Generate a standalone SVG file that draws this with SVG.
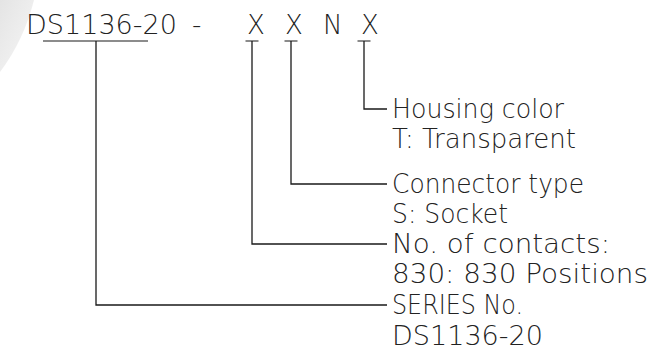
<svg xmlns="http://www.w3.org/2000/svg" width="652" height="358" viewBox="0 0 652 358">
<defs>
<linearGradient id="wm" x1="0" y1="0" x2="1" y2="1">
<stop offset="0" stop-color="#e4e4e4"/>
<stop offset="1" stop-color="#f7f7f7"/>
</linearGradient>
</defs>
<style>
text{font-family:"DejaVu Sans ExtraLight","DejaVu Sans","Liberation Sans",sans-serif;font-size:26px;font-weight:200;fill:#222}
.c{fill:none;stroke:#1a1a1a;stroke-width:1.3}
.g{fill:none;stroke:#666;stroke-width:1.6}
</style>
<rect width="652" height="358" fill="#fff"/>
<path d="M0,0 L34,0 Q24,40 0,72 Z" fill="url(#wm)"/>
<g id="title">
<text y="34"><tspan x="26" textLength="151" lengthAdjust="spacingAndGlyphs">DS1136-20</tspan><tspan x="192">-</tspan><tspan x="247">X</tspan><tspan x="285">X</tspan><tspan x="323">N</tspan><tspan x="361">X</tspan></text>
</g>
<g id="connectors">
<path class="g" d="M43,41 H148"/>
<path class="g" d="M245.5,41 H258.5 M284.5,41 H297.5 M357.5,41 H370.5"/>
<path class="c" d="M96,41 V305 H387"/>
<path class="c" d="M252,41 V244 H387"/>
<path class="c" d="M291,41 V184 H387"/>
<path class="c" d="M364,41 V109 H387"/>
</g>
<g id="housing">
<text x="392" y="117.5" textLength="172" lengthAdjust="spacingAndGlyphs">Housing color</text>
<text x="392" y="147.5" textLength="184" lengthAdjust="spacingAndGlyphs">T: Transparent</text>
</g>
<g id="connector-type">
<text x="392" y="192.5" textLength="192" lengthAdjust="spacingAndGlyphs">Connector type</text>
<text x="392" y="222.5" textLength="116" lengthAdjust="spacingAndGlyphs">S: Socket</text>
</g>
<g id="contacts">
<text x="392" y="252.5" textLength="218" lengthAdjust="spacingAndGlyphs">No. of contacts:</text>
<text x="392" y="283" textLength="256" lengthAdjust="spacingAndGlyphs">830: 830  Positions</text>
</g>
<g id="series">
<text x="392" y="314" textLength="131" lengthAdjust="spacingAndGlyphs">SERIES No.</text>
<text x="392" y="345" textLength="151" lengthAdjust="spacingAndGlyphs">DS1136-20</text>
</g>
</svg>
